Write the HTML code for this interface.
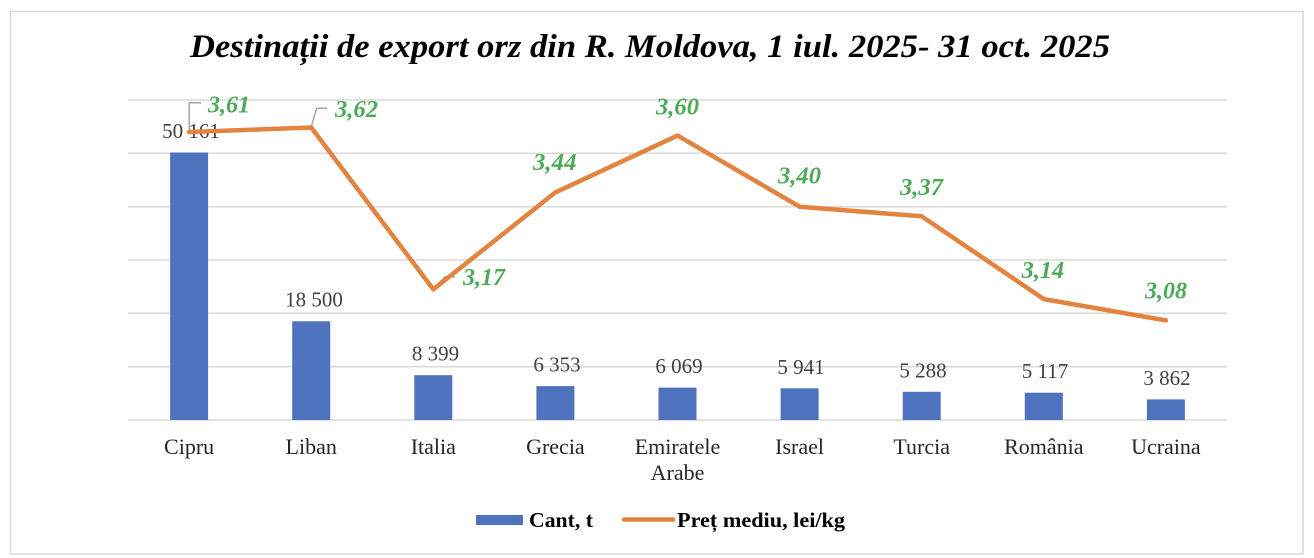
<!DOCTYPE html>
<html>
<head>
<meta charset="utf-8">
<style>
  html, body { margin:0; padding:0; background:#fff; }
  svg { display:block; }
  text { font-family: "Liberation Serif", "Times New Roman", serif; }
</style>
</head>
<body>
<svg width="1314" height="558" viewBox="0 0 1314 558" xmlns="http://www.w3.org/2000/svg">
  <rect x="0" y="0" width="1314" height="558" fill="#fff"/>
  <rect x="10.5" y="11.5" width="1292.5" height="542.5" fill="#fff" stroke="#d9d9d9" stroke-width="1.5"/>

  <!-- Title -->
  <text x="190" y="57" font-size="33" font-weight="bold" font-style="italic" fill="#000" textLength="920" lengthAdjust="spacingAndGlyphs">Destinații de export orz din R. Moldova, 1 iul. 2025- 31 oct. 2025</text>

  <!-- Gridlines -->
  <g stroke="#d9d9d9" stroke-width="1.5">
    <line x1="128" y1="100" x2="1227" y2="100"/>
    <line x1="128" y1="153.3" x2="1227" y2="153.3"/>
    <line x1="128" y1="206.7" x2="1227" y2="206.7"/>
    <line x1="128" y1="260" x2="1227" y2="260"/>
    <line x1="128" y1="313.3" x2="1227" y2="313.3"/>
    <line x1="128" y1="366.7" x2="1227" y2="366.7"/>
    <line x1="128" y1="420" x2="1227" y2="420"/>
  </g>

  <!-- Bars -->
  <g fill="#4f72bf">
    <rect x="170.1" y="152.5" width="38" height="267.5"/>
    <rect x="292.2" y="321.3" width="38" height="98.7"/>
    <rect x="414.3" y="375.2" width="38" height="44.8"/>
    <rect x="536.4" y="386.1" width="38" height="33.9"/>
    <rect x="658.5" y="387.6" width="38" height="32.4"/>
    <rect x="780.6" y="388.3" width="38" height="31.7"/>
    <rect x="902.7" y="391.8" width="38" height="28.2"/>
    <rect x="1024.8" y="392.7" width="38" height="27.3"/>
    <rect x="1146.9" y="399.4" width="38" height="20.6"/>
  </g>

  <!-- Bar labels -->
  <g font-size="21" fill="#404040" text-anchor="middle">
    <text x="191" y="138">50 161</text>
    <text x="314" y="306.7">18 500</text>
    <text x="435.5" y="360.7">8 399</text>
    <text x="557" y="371.6">6 353</text>
    <text x="679" y="373.1">6 069</text>
    <text x="801" y="373.8">5 941</text>
    <text x="923" y="377.3">5 288</text>
    <text x="1045" y="378.2">5 117</text>
    <text x="1167" y="384.9">3 862</text>
  </g>

  <!-- Leader lines -->
  <g stroke="#a6a6a6" stroke-width="1.5" fill="none">
    <polyline points="189.3,131 189.3,102.7 201,102.7"/>
    <polyline points="311.5,126 316.7,108.3 327,108.3"/>
    <polyline points="433.3,289 445,276.7 455,276.7"/>
  </g>

  <!-- Line series -->
  <polyline fill="none" stroke="#e2833f" stroke-width="4.5" stroke-linejoin="round" stroke-linecap="round"
    points="189.1,132 311.2,127.5 433.3,289.4 555.4,192.4 677.5,135.6 799.6,206.7 921.7,216.3 1043.8,299.1 1165.9,320.4"/>

  <!-- Line labels -->
  <g font-size="24" font-weight="bold" font-style="italic" fill="#4aaa55">
    <text x="208" y="112.3" textLength="42" lengthAdjust="spacingAndGlyphs">3,61</text>
    <text x="335" y="117" textLength="43" lengthAdjust="spacingAndGlyphs">3,62</text>
    <text x="463" y="285" textLength="42" lengthAdjust="spacingAndGlyphs">3,17</text>
    <text x="533" y="170" textLength="43.5" lengthAdjust="spacingAndGlyphs">3,44</text>
    <text x="656" y="114.3" textLength="43" lengthAdjust="spacingAndGlyphs">3,60</text>
    <text x="778" y="183.3" textLength="43" lengthAdjust="spacingAndGlyphs">3,40</text>
    <text x="900" y="195" textLength="43" lengthAdjust="spacingAndGlyphs">3,37</text>
    <text x="1021.7" y="278" textLength="42.5" lengthAdjust="spacingAndGlyphs">3,14</text>
    <text x="1145" y="298.3" textLength="42" lengthAdjust="spacingAndGlyphs">3,08</text>
  </g>

  <!-- Category labels -->
  <g font-size="22" fill="#262626" text-anchor="middle">
    <text x="189.1" y="454">Cipru</text>
    <text x="311.2" y="454">Liban</text>
    <text x="433.3" y="454">Italia</text>
    <text x="555.4" y="454">Grecia</text>
    <text x="677.5" y="454">Emiratele</text>
    <text x="677.5" y="480">Arabe</text>
    <text x="799.6" y="454">Israel</text>
    <text x="921.7" y="454">Turcia</text>
    <text x="1043.8" y="454">România</text>
    <text x="1165.9" y="454">Ucraina</text>
  </g>

  <!-- Legend -->
  <rect x="476" y="515" width="47" height="10" fill="#4f72bf"/>
  <text x="529" y="527" font-size="21" font-weight="bold" fill="#000" textLength="64" lengthAdjust="spacingAndGlyphs">Cant, t</text>
  <line x1="624" y1="519.5" x2="673" y2="519.5" stroke="#e2833f" stroke-width="4.5" stroke-linecap="round"/>
  <text x="677" y="527" font-size="21" font-weight="bold" fill="#000" textLength="168" lengthAdjust="spacingAndGlyphs">Preț mediu, lei/kg</text>
</svg>
</body>
</html>
